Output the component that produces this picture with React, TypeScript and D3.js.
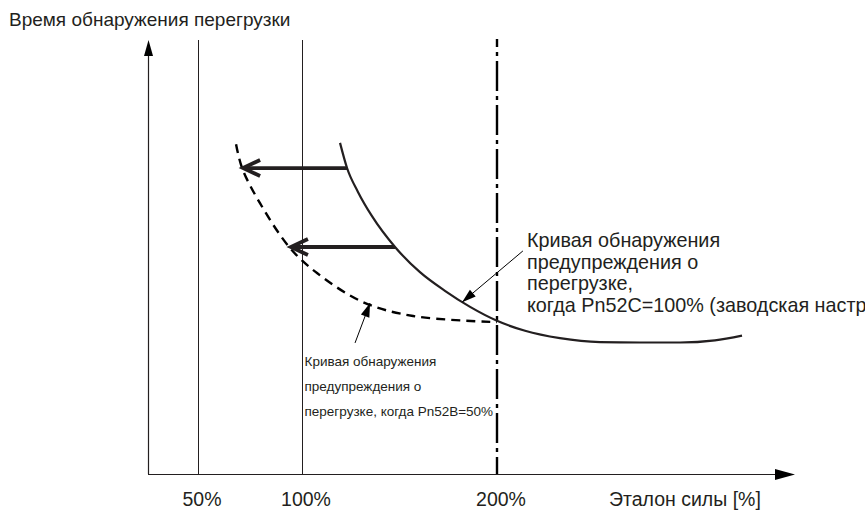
import React from "react";
import * as d3 from "d3";

// ---- data (schematic units: x = load %, y = detection time units 0..100) ----
const tickValues = [50, 100, 200];
const tickLabels = ["50%", "100%", "200%"];
const yTitle = "Время обнаружения перегрузки";
const xTitle = "Эталон силы [%]";

// Pn52C = 100% curve (solid)
const solidX = [119.5, 123.1, 128.7, 135.9, 147.7, 160.5, 173.3, 186.2, 200, 214.4, 232.3, 252.9, 273.4, 294.0, 311.9, 325.8];
const solidY = [76.3, 70.5, 65.0, 59.4, 52.3, 46.5, 42.2, 38.5, 35.3, 33.0, 31.3, 30.4, 30.3, 30.3, 30.8, 31.9];

// Pn52B = 50% curve (dashed)
const dashX = [68.3, 71.2, 79.8, 94.2, 107.7, 131.3, 157.0, 200];
const dashY = [76.0, 70.5, 62.4, 52.1, 46.3, 39.6, 36.4, 35.0];

// shift arrows: [fromX, toX, y]
const shiftFromX = [123.1, 147.7];
const shiftToX = [71.2, 94.2];
const shiftY = [70.5, 52.3];

const bigLabelLines = [
  "Кривая обнаружения",
  "предупреждения о",
  "перегрузке,",
  "когда Pn52C=100% (заводская настройка)",
];
const smallLabelLines = [
  "Кривая обнаружения",
  "предупреждения о",
  "перегрузке, когда Pn52B=50%",
];

// annotation anchors in data units
const bigArrow = { x1: 213.3, y1: 51.4, x2: 182.1, y2: 39.6 };
const smallArrow = { x1: 127.2, y1: 30.2, x2: 134.9, y2: 39.4 };
const bigLabelAnchor = { x: 215.4, y: 52.3 };
const smallLabelAnchor = { x: 101.3, y: 24.8 };

const W = 865;
const H = 510;
const INK = "#231f20";
const FONT = "'Liberation Sans', Arial, Helvetica, sans-serif";

export default function App() {
  const x = d3.scaleLinear().domain([26, 50, 100, 200, 353]).range([148, 198, 302, 497, 795]);
  const y = d3.scaleLinear().domain([0, 100]).range([474, 40]);

  const lineSolid = d3
    .line<number>()
    .x((_, i) => x(solidX[i]))
    .y((d) => y(d))
    .curve(d3.curveMonotoneX);
  const lineDash = d3
    .line<number>()
    .x((_, i) => x(dashX[i]))
    .y((d) => y(d))
    .curve(d3.curveCatmullRom.alpha(0.5));

  const x0 = x(26);
  const y0 = y(0);
  const yTop = y(100);
  const xEnd = x(353);

  const triangle = (tx: number, ty: number, fx: number, fy: number, len: number, half: number) => {
    const ang = Math.atan2(ty - fy, tx - fx);
    const bx = tx - len * Math.cos(ang);
    const by = ty - len * Math.sin(ang);
    const px = -Math.sin(ang) * half;
    const py = Math.cos(ang) * half;
    return `M${tx},${ty}L${bx + px},${by + py}L${bx - px},${by - py}Z`;
  };

  return (
    <svg
      width={W}
      height={H}
      style={{ position: "absolute", left: 0, top: 0, background: "#fff" }}
      fontFamily={FONT}
    >
      {/* y title */}
      <text x={9} y={26} fontSize={19} fill={INK}>
        {yTitle}
      </text>

      {/* vertical reference lines */}
      {[50, 100].map((v) => (
        <line key={v} x1={x(v) + 0.5} x2={x(v) + 0.5} y1={yTop} y2={y0} stroke={INK} strokeWidth={1} />
      ))}
      <line
        x1={x(200)}
        x2={x(200)}
        y1={yTop - 1}
        y2={y0}
        stroke="#000"
        strokeWidth={2.4}
        strokeDasharray="30,5,4,5"
        strokeDashoffset={22}
      />

      {/* axes */}
      <line x1={x0 + 0.5} x2={x0 + 0.5} y1={yTop + 12} y2={y0} stroke={INK} strokeWidth={1.2} />
      <path d={triangle(x0 + 0.5, yTop, x0 + 0.5, y0, 16, 4.5)} fill="#000" />
      <line x1={x0} x2={xEnd - 15} y1={y0 + 0.5} y2={y0 + 0.5} stroke={INK} strokeWidth={1.2} />
      <path d={triangle(xEnd, y0 + 0.5, x0, y0 + 0.5, 20, 5.5)} fill="#000" />

      {/* tick labels */}
      {tickValues.map((v, i) => (
        <text key={v} x={x(v) + 4} y={506} fontSize={19.5} fill={INK} textAnchor="middle">
          {tickLabels[i]}
        </text>
      ))}
      <text x={609} y={506} fontSize={19.5} fill={INK}>
        {xTitle}
      </text>

      {/* curves */}
      <path d={lineSolid(solidY) || ""} fill="none" stroke={INK} strokeWidth={2.2} />
      <path
        d={lineDash(dashY) || ""}
        fill="none"
        stroke="#000"
        strokeWidth={2.4}
        strokeDasharray="9,6"
      />

      {/* shift arrows */}
      {shiftY.map((v, i) => {
        const yy = y(v);
        const xf = x(shiftFromX[i]);
        const xt = x(shiftToX[i]);
        return (
          <g key={i} stroke={INK} strokeWidth={3.8} fill="none" strokeLinecap="butt">
            <line x1={xf} x2={xt + 2} y1={yy} y2={yy} />
            <path d={`M${xt + 18},${yy - 8}L${xt + 1},${yy}L${xt + 18},${yy + 8}`} strokeLinejoin="miter" />
          </g>
        );
      })}

      {/* annotation arrows */}
      {[bigArrow, smallArrow].map((a, i) => {
        const fx = x(a.x1);
        const fy = y(a.y1);
        const tx = x(a.x2);
        const ty = y(a.y2);
        return (
          <g key={i}>
            <line x1={fx} y1={fy} x2={tx} y2={ty} stroke="#000" strokeWidth={1} />
            <path d={triangle(tx, ty, fx, fy, 14, 4.5)} fill="#000" />
          </g>
        );
      })}

      {/* labels */}
      <text x={x(bigLabelAnchor.x)} y={y(bigLabelAnchor.y)} fontSize={19.8} fill={INK}>
        {bigLabelLines.map((l, i) => (
          <tspan key={i} x={x(bigLabelAnchor.x)} dy={i === 0 ? 0 : 21.5}>
            {l}
          </tspan>
        ))}
      </text>
      <text x={x(smallLabelAnchor.x)} y={y(smallLabelAnchor.y)} fontSize={13.5} fill={INK}>
        {smallLabelLines.map((l, i) => (
          <tspan key={i} x={x(smallLabelAnchor.x)} dy={i === 0 ? 0 : 25}>
            {l}
          </tspan>
        ))}
      </text>
    </svg>
  );
}
